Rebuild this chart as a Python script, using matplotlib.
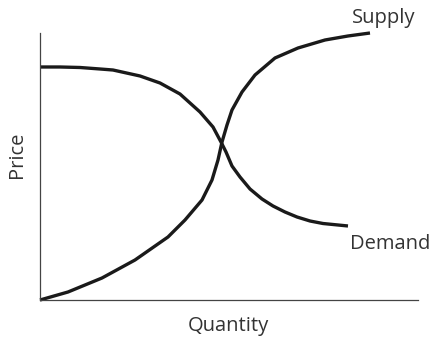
import matplotlib
matplotlib.use("Agg")
import matplotlib.pyplot as plt

# Curve points (x: quantity 0-100, y: price 0-100)
supply_x = [0.0, 7.41, 16.40, 25.13, 33.86, 38.36, 42.86, 45.50, 47.09, 48.15,
            49.47, 50.79, 53.44, 56.88, 62.17, 68.25, 75.40, 81.48, 87.30]
supply_y = [0.0, 3.0, 8.24, 14.98, 23.60, 29.96, 37.45, 44.94, 52.43, 59.18,
            65.54, 71.16, 77.90, 84.27, 90.64, 94.38, 97.38, 98.88, 100.0]

demand_x = [0.0, 5.29, 10.58, 15.87, 19.31, 26.46, 31.75, 37.04, 42.33, 45.77, 47.88,
            49.21, 50.79, 52.91, 55.56, 58.73, 61.64, 64.81, 67.99, 71.43, 74.87, 81.48]
demand_y = [87.27, 87.27, 87.08, 86.52, 86.14, 83.90, 81.27, 77.15, 70.41, 64.79, 59.18,
            55.43, 50.19, 46.07, 41.57, 37.83, 35.21, 32.96, 31.09, 29.59, 28.65, 27.72]

curve_labels = ["Supply", "Demand"]
x_label = "Quantity"
y_label = "Price"

W, H = 429, 337
fig = plt.figure(figsize=(W / 100, H / 100), dpi=100)
ax = fig.add_axes([40 / W, 37 / H, 378 / W, 267 / H])
ax.set_xlim(0, 100)
ax.set_ylim(0, 100)
for s in ["top", "right"]:
    ax.spines[s].set_visible(False)
for s in ["left", "bottom"]:
    ax.spines[s].set_color("#444444")
    ax.spines[s].set_linewidth(0.9)
ax.set_xticks([])
ax.set_yticks([])

line_kw = dict(color="#1a1a1a", lw=2.4, solid_capstyle="butt",
               solid_joinstyle="round", antialiased=True, clip_on=False)
ax.plot(supply_x, supply_y, **line_kw)
ax.plot(demand_x, demand_y, **line_kw)

font = dict(family=["Open Sans", "DejaVu Sans"], fontsize=14.5, color="#333333")
ax.text(90.8, 105.8, curve_labels[0], ha="center", va="center", **font)
ax.text(82.0, 21.0, curve_labels[1], ha="left", va="center", **font)
fig.text(228 / W, 1 - 326 / H, x_label, ha="center", va="center", **font)
fig.text(17 / W, 1 - 155 / H, y_label, ha="center", va="center", rotation=90, **font)

fig.savefig("out.png", dpi=100)
